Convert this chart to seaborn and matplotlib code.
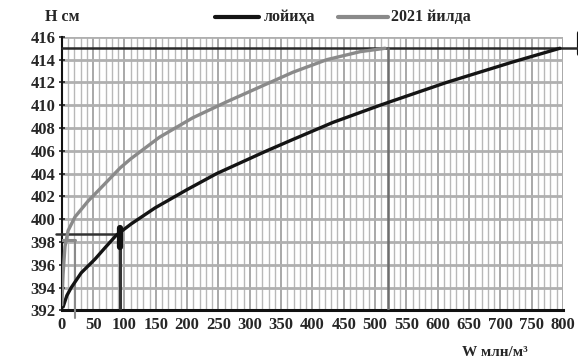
import matplotlib
matplotlib.use('Agg')
from matplotlib import pyplot as plt
from matplotlib.ticker import MultipleLocator
import pandas as pd
import seaborn as sns

# Curve data (W, mln m3 -> H, cm)
w_design = [2, 8, 15, 31, 53, 69, 87, 111, 149, 200, 247, 295, 327, 369,
            433, 508, 529, 614, 720, 795]
h_design = [392.3, 393.3, 394.0, 395.3, 396.5, 397.5, 398.6, 399.6, 401.0,
            402.6, 404.0, 405.2, 406.0, 407.0, 408.5, 410.0, 410.4, 412.0,
            413.8, 415.0]

w_2021 = [0, 2, 5, 10, 21, 42, 58, 93, 110, 156, 209, 263, 316, 369, 423,
          476, 516]
h_2021 = [392.5, 395.2, 397.6, 399.0, 400.2, 401.6, 402.5, 404.5, 405.3,
          407.2, 408.9, 410.3, 411.6, 412.9, 414.0, 414.7, 415.0]

labels = ['лойиҳа', '2021 йилда']
colors = ['#141414', '#8a8a8a']

df = pd.concat([
    pd.DataFrame({'W': w_design, 'H': h_design, 'series': labels[0]}),
    pd.DataFrame({'W': w_2021, 'H': h_2021, 'series': labels[1]}),
])

sns.set_style('white')
plt.rcParams['font.family'] = ['Liberation Serif', 'DejaVu Serif']
plt.rcParams['font.weight'] = 'bold'

fig = plt.figure(figsize=(5.78, 3.58), dpi=100)
ax = fig.add_axes([0.107, 0.133, 0.867, 0.764])

# Grid
ax.xaxis.set_major_locator(MultipleLocator(50))
ax.xaxis.set_minor_locator(MultipleLocator(10))
ax.yaxis.set_major_locator(MultipleLocator(2))
ax.grid(which='major', axis='x', color='#9a9a9a', lw=1.2)
ax.grid(which='minor', axis='x', color='#b8b8b8', lw=1.0)
ax.grid(which='major', axis='y', color='#b0b0b0', lw=2.0)

sns.lineplot(data=df, x='W', y='H', hue='series', palette=colors,
             sort=False, estimator=None, lw=2.4, ax=ax, legend=False, zorder=5)

# Reading lines
ax.plot([0, 830], [415, 415], color='#2a2a2a', lw=1.8, clip_on=False, zorder=4)
ax.plot([825, 825], [414.5, 416.3], color='#111111', lw=3, clip_on=False)
ax.plot([826, 826], [405.5, 415], color='#333333', lw=0.8, clip_on=False)
ax.plot([520, 520], [392, 415], color='#6e6e6e', lw=1.8, zorder=4)
ax.plot([-10, 93], [398.7, 398.7], color='#333333', lw=1.8, clip_on=False, zorder=4)
ax.plot([93, 93], [392, 398.7], color='#333333', lw=2.2, zorder=4)
ax.plot([93, 93], [397.6, 399.2], color='#111111', lw=4.5, zorder=6)
ax.plot([0, 21], [398.2, 398.2], color='#8a8a8a', lw=2.2, zorder=4)
ax.plot([21, 21], [391.3, 398.2], color='#8a8a8a', lw=1.5, clip_on=False, zorder=4)

ax.set_xlim(0, 800)
ax.set_ylim(392, 416)
ax.set_xlabel('')
ax.set_ylabel('')
for s in ['top', 'right']:
    ax.spines[s].set_visible(False)
ax.spines['left'].set_color('#111111')
ax.spines['left'].set_linewidth(1.5)
ax.spines['bottom'].set_color('#111111')
ax.spines['bottom'].set_linewidth(2.2)
ax.tick_params(axis='y', which='major', direction='inout', length=5,
               width=1.2, labelsize=12, pad=2, left=True)
ax.tick_params(axis='x', which='both', length=0, labelsize=12, pad=5)
for lab in ax.get_xticklabels() + ax.get_yticklabels():
    lab.set_fontweight('bold')

fig.text(0.078, 0.952, 'H см', fontsize=11.5, fontweight='bold', va='center')
fig.text(0.80, 0.016, 'W млн/м³', fontsize=11, fontweight='bold', va='center')

# Legend drawn by hand in figure coordinates
fig.lines.append(plt.Line2D([0.372, 0.448], [0.952, 0.952], color=colors[0],
                            lw=3, transform=fig.transFigure))
fig.text(0.456, 0.952, labels[0], fontsize=11.5, fontweight='bold', va='center')
fig.lines.append(plt.Line2D([0.585, 0.672], [0.952, 0.952], color=colors[1],
                            lw=3, transform=fig.transFigure))
fig.text(0.676, 0.952, labels[1], fontsize=11.5, fontweight='bold', va='center')

fig.savefig('out.png', dpi=100)
